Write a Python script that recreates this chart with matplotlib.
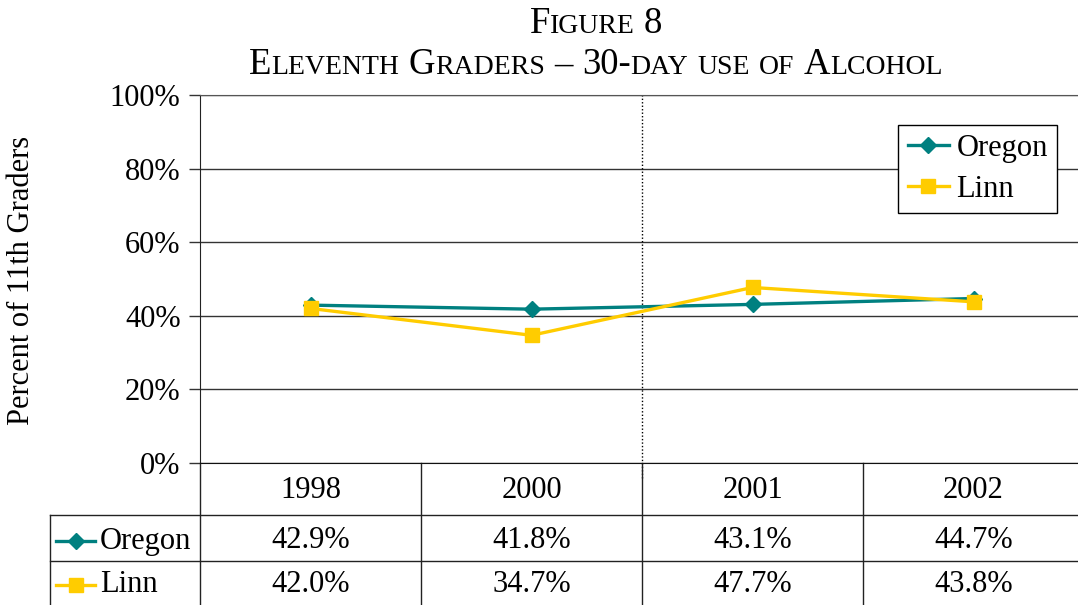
import matplotlib
matplotlib.use('Agg')
import matplotlib.pyplot as plt

years = ['1998', '2000', '2001', '2002']
oregon = [42.9, 41.8, 43.1, 44.7]
linn = [42.0, 34.7, 47.7, 43.8]
yticks = [0, 20, 40, 60, 80, 100]

teal = '#008080'
gold = '#FFCC00'

plt.rcParams['font.family'] = ['Liberation Serif', 'DejaVu Serif']

W, H = 1078, 605
fig = plt.figure(figsize=(W / 100, H / 100), dpi=100)
ax_l, ax_t, ax_b = 200, 95, 463
col_w = 221
ax_r = ax_l + col_w * len(years)
ax = fig.add_axes([ax_l / W, 1 - ax_b / H, (ax_r - ax_l) / W, (ax_b - ax_t) / H])


def yf(py):  # pixel row -> axes fraction
    return (ax_b - py) / (ax_b - ax_t)


def xd(px):  # pixel column -> data x
    return (px - ax_l) / col_w - 0.5


x = list(range(len(years)))
ax.plot(x, oregon, color=teal, lw=2.4, marker='D', ms=8, label='Oregon', zorder=3)
ax.plot(x, linn, color=gold, lw=2.4, marker='s', ms=9.5, label='Linn', zorder=4)

ax.set_xlim(-0.5, len(years) - 0.5)
ax.set_ylim(0, 100)
ax.set_yticks(yticks)
ax.set_yticklabels([f'{v}%' for v in yticks], fontsize=22)
ax.set_xticks([])
ax.tick_params(axis='y', length=8, width=1, color='#333333', pad=6)
ax.yaxis.grid(True, color='#333333', lw=1)
ax.set_axisbelow(True)
ax.spines['right'].set_visible(False)
ax.spines['top'].set_color('#555555')
ax.spines['left'].set_color('#222222')
ax.spines['bottom'].set_color('#111111')

# dotted separator between 2000 and 2001
tr = ax.get_xaxis_transform()
ax.plot([1.5, 1.5], [yf(478), 1], transform=tr, color='black', lw=1,
        ls=(0, (1, 1.5)), clip_on=False)

leg = ax.legend(loc='upper right', bbox_to_anchor=(1057 / W, 1 - 125 / H),
                bbox_transform=fig.transFigure, borderaxespad=0, fontsize=22,
                frameon=True, fancybox=False, edgecolor='black', framealpha=1,
                handlelength=1.35, handletextpad=0.25, labelspacing=0.38,
                borderpad=0.3)
leg.get_frame().set_linewidth(1)

# data table under the axis
row_lines = [yf(515), yf(561)]
bottom = yf(620)
for k in range(len(years)):
    ax.plot([k - 0.5, k - 0.5], [0, bottom], transform=tr, color='#222222',
            lw=1, clip_on=False)
for ry in row_lines:
    ax.plot([xd(50), len(years) - 0.5], [ry, ry], transform=tr, color='#222222',
            lw=1, clip_on=False)
ax.plot([xd(50), xd(50)], [row_lines[0], bottom], transform=tr, color='#222222',
        lw=1, clip_on=False)

for k, yr in enumerate(years):
    ax.text(k, yf(490), yr, transform=tr, ha='center', va='center', fontsize=22)
    ax.text(k, yf(541), f'{oregon[k]:.1f}%', transform=tr, ha='center',
            va='center', fontsize=22)
    ax.text(k, yf(585), f'{linn[k]:.1f}%', transform=tr, ha='center',
            va='center', fontsize=22)

for name, col, mk, ms, py in [('Oregon', teal, 'D', 8, 541), ('Linn', gold, 's', 9.5, 585)]:
    ax.plot([xd(56), xd(95)], [yf(py), yf(py)], transform=tr, color=col, lw=2.4,
            clip_on=False)
    ax.plot([xd(75.5)], [yf(py)], transform=tr, color=col, marker=mk, ms=ms,
            clip_on=False)
    ax.text(xd(100), yf(py), name, transform=tr, ha='left', va='center', fontsize=22)

fig.text(22 / W, 1 - 280 / H, 'Percent of 11th Graders', rotation=90,
         ha='center', va='center', fontsize=22)

# small-caps title
renderer = fig.canvas.get_renderer()


def text_w(s, size):
    t = fig.text(0, 0, s, fontsize=size)
    w = t.get_window_extent(renderer).width
    t.remove()
    return w


def small_caps(text, cx, base_py, big, small):
    segs = []
    gap = text_w('x x', big) - text_w('xx', big)
    for wi, word in enumerate(text.split(' ')):
        if wi:
            segs.append((None, gap))
        cur, cur_small = '', None
        for ch in word:
            is_small = ch.islower()
            if cur and is_small != cur_small:
                segs.append((cur, small if cur_small else big))
                cur = ''
            cur += ch.upper()
            cur_small = is_small
        if cur:
            segs.append((cur, small if cur_small else big))
    widths = [s[1] if s[0] is None else text_w(s[0], s[1]) for s in segs]
    px = cx - sum(widths) / 2
    for (s, size), w in zip(segs, widths):
        if s is not None:
            fig.text(px / W, 1 - base_py / H, s, fontsize=size, va='baseline')
        px += w


small_caps('Figure 8', 596, 33, 26.5, 20)
small_caps('Eleventh Graders \u2013 30-day use of Alcohol', 596, 74, 26.5, 20)

fig.savefig('out.png', dpi=100)
